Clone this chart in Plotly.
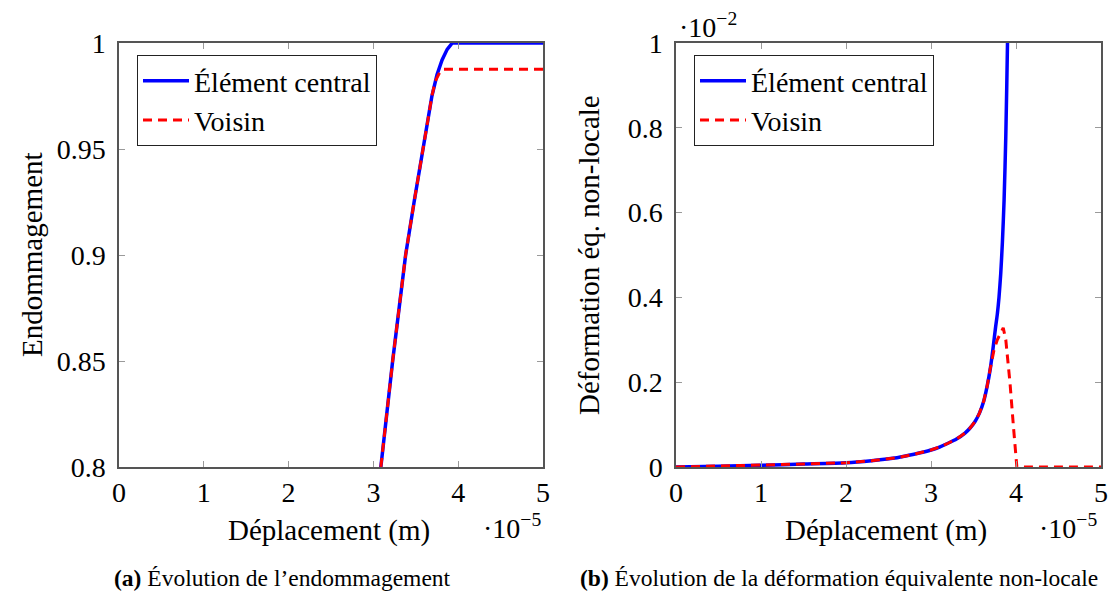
import plotly.graph_objects as go

# ---------------- data (displacement in 1e-5 m) ----------------
# (a) damage
dmg_x_central = [3.00, 3.088, 3.227, 3.38, 3.48, 3.58, 3.64, 3.69, 3.75, 3.81, 3.87, 3.93, 5.0]
dmg_y_central = [0.772, 0.800, 0.850, 0.900, 0.925, 0.950, 0.963, 0.975, 0.985, 0.992, 0.997, 1.000, 1.000]
dmg_x_voisin = [3.00, 3.088, 3.227, 3.38, 3.48, 3.58, 3.64, 3.69, 3.73, 3.78, 3.82, 5.0]
dmg_y_voisin = [0.772, 0.800, 0.850, 0.900, 0.925, 0.950, 0.963, 0.975, 0.982, 0.986, 0.9876, 0.9876]

# (b) non-local equivalent strain (in 1e-2)
eps_x_central = [0.0, 0.5, 1.0, 1.5, 2.0, 2.3, 2.6, 2.8, 3.0, 3.1, 3.2, 3.3, 3.4, 3.46, 3.52, 3.57,
                 3.62, 3.66, 3.70, 3.73, 3.76, 3.78, 3.80, 3.82, 3.84, 3.86, 3.88, 3.90, 3.92]
eps_y_central = [0.0, 0.002, 0.004, 0.007, 0.010, 0.015, 0.022, 0.030, 0.040, 0.047, 0.056, 0.066,
                 0.080, 0.092, 0.108, 0.127, 0.155, 0.190, 0.235, 0.280, 0.330, 0.360, 0.400, 0.455,
                 0.530, 0.630, 0.780, 1.0, 1.3]
eps_x_voisin = [0.0, 0.5, 1.0, 1.5, 2.0, 2.3, 2.6, 2.8, 3.0, 3.1, 3.2, 3.3, 3.4, 3.46, 3.52, 3.57,
                3.62, 3.66, 3.70, 3.74, 3.78, 3.82, 3.85, 3.88, 3.93, 3.97, 4.01, 5.0]
eps_y_voisin = [0.0, 0.002, 0.004, 0.007, 0.010, 0.015, 0.022, 0.030, 0.040, 0.047, 0.056, 0.066,
                0.080, 0.092, 0.108, 0.127, 0.155, 0.190, 0.235, 0.275, 0.300, 0.315, 0.328,
                0.300, 0.197, 0.095, 0.0, 0.0]

x_ticks = [0, 1, 2, 3, 4, 5]
dmg_ticks = [0.8, 0.85, 0.9, 0.95, 1.0]
dmg_ticktext = ["0.8", "0.85", "0.9", "0.95", "1"]
eps_ticks = [0, 0.2, 0.4, 0.6, 0.8, 1.0]
eps_ticktext = ["0", "0.2", "0.4", "0.6", "0.8", "1"]

names = ["Élément central", "Voisin"]

# ---------------- layout helpers ----------------
# the page body has an 8px margin: the figure starts at (8, 8) of the window
OFF = 8
W, H = 1116 - OFF, 597 - OFF
FONT = "Liberation Serif, Times New Roman, serif"
BLUE = "#0000FF"
RED = "#FF0000"


def px(x):
    return (x - OFF) / W


def py(y):
    return 1 - (y - OFF) / H


fig = go.Figure()

fig.add_trace(go.Scatter(x=dmg_x_central, y=dmg_y_central, mode="lines", name=names[0],
                         line=dict(color=BLUE, width=3.5), xaxis="x", yaxis="y", legend="legend"))
fig.add_trace(go.Scatter(x=dmg_x_voisin, y=dmg_y_voisin, mode="lines", name=names[1],
                         line=dict(color=RED, width=3, dash="9px,6px"), xaxis="x", yaxis="y",
                         legend="legend"))
fig.add_trace(go.Scatter(x=eps_x_central, y=eps_y_central, mode="lines", name=names[0],
                         line=dict(color=BLUE, width=3.5, shape="spline", smoothing=0.6),
                         xaxis="x2", yaxis="y2", legend="legend2"))
fig.add_trace(go.Scatter(x=eps_x_voisin, y=eps_y_voisin, mode="lines", name=names[1],
                         line=dict(color=RED, width=3, dash="9px,6px"), xaxis="x2", yaxis="y2",
                         legend="legend2"))

axis_common = dict(
    showgrid=False, zeroline=False, showline=True, linecolor="#555555", linewidth=1.5,
    mirror="ticks", ticks="inside", ticklen=6, tickwidth=1, tickcolor="#9a9a9a",
    tickfont=dict(family=FONT, size=28, color="black"), automargin=False,
)

ydom = [py(467), py(43)]
legend_common = dict(xanchor="left", yanchor="top", bgcolor="white",
                     bordercolor="#222222", borderwidth=1, font=dict(family=FONT, size=28),
                     tracegroupgap=0, itemwidth=46, entrywidth=230, entrywidthmode="pixels")
fig.update_layout(
    width=W, height=H, margin=dict(l=0, r=0, t=0, b=0),
    paper_bgcolor="white", plot_bgcolor="white",
    font=dict(family=FONT, size=28, color="black"),
    xaxis=dict(domain=[px(119), px(543)], range=[0, 5], tickvals=x_ticks, anchor="y",
               ticklabelstandoff=0, **axis_common),
    yaxis=dict(domain=ydom, range=[0.8, 1.0], tickvals=dmg_ticks, ticktext=dmg_ticktext,
               anchor="x", ticklabelstandoff=6, **axis_common),
    xaxis2=dict(domain=[px(676), px(1101)], range=[0, 5], tickvals=x_ticks, anchor="y2",
                ticklabelstandoff=0, **axis_common),
    yaxis2=dict(domain=ydom, range=[0, 1.0], tickvals=eps_ticks, ticktext=eps_ticktext,
                anchor="x2", ticklabelstandoff=6, **axis_common),
    legend=dict(x=px(137), y=py(55), **legend_common),
    legend2=dict(x=px(694), y=py(55), **legend_common),
    showlegend=True,
)

ann = []


def add_text(text, x, y, size=28, angle=0, xanchor="center"):
    ann.append(dict(text=text, x=px(x), y=py(y), xref="paper", yref="paper", showarrow=False,
                    xanchor=xanchor, yanchor="middle", textangle=angle,
                    font=dict(family=FONT, size=size, color="black")))


add_text("Endommagement", 32, 255, size=29, angle=-90)
add_text("Déformation éq. non-locale", 589, 255, size=29, angle=-90)
add_text("Déplacement (m)", 329, 530, size=29)
add_text("Déplacement (m)", 886, 530, size=29)
add_text("·10<sup>−5</sup>", 512, 526)
add_text("·10<sup>−5</sup>", 1068, 526)
add_text("·10<sup>−2</sup>", 708, 25)
add_text("<b>(a)</b> Évolution de l’endommagement", 282, 578, size=23.5)
add_text("<b>(b)</b> Évolution de la déformation équivalente non-locale", 839, 578, size=23.5)

fig.update_layout(annotations=ann)

fig.write_html("out.html")
